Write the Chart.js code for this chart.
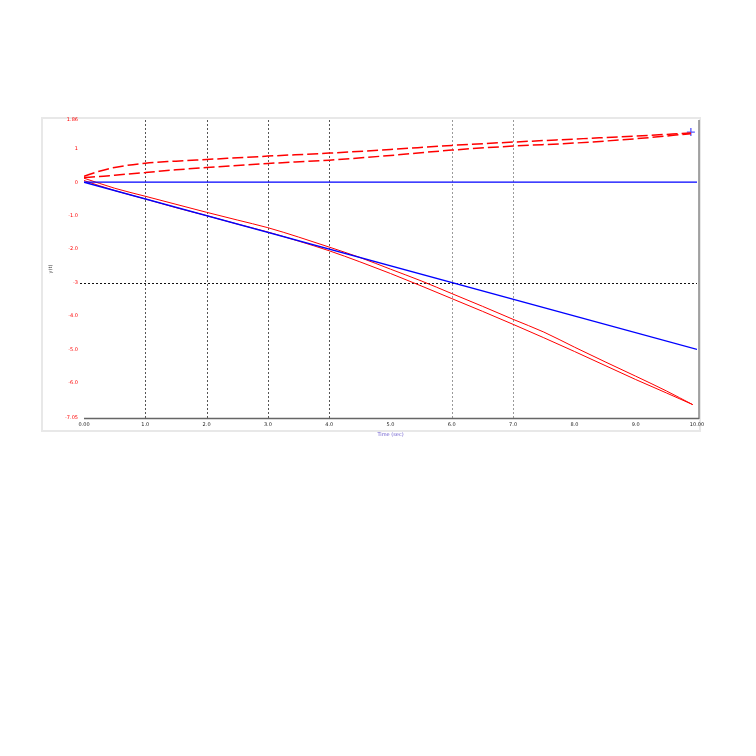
<!DOCTYPE html>
<html>
<head>
<meta charset="utf-8">
<script src="https://cdn.jsdelivr.net/npm/chart.js@4/dist/chart.umd.min.js"></script>
<style>
html,body{margin:0;padding:0;background:#fff;}
canvas{display:block;}
</style>
</head>
<body>
<canvas id="c" width="756" height="756"></canvas>
<script>
// ---- data ----
const xTickValues = [0,1,2,3,4,5,6,7,8,9,10];
const xTickLabels = ["0.00","1.0","2.0","3.0","4.0","5.0","6.0","7.0","8.0","9.0","10.00"];
const yTickValues = [1.86,1,0,-1,-2,-3,-4,-5,-6,-7.05];
const yTickLabels = ["1.86","1","0","-1.0","-2.0","-3","-4.0","-5.0","-6.0","-7.05"];
const xGridValues = [1,2,3,4,6,7];
const yGridValues = [-3];

const zeroT = [0,10];
const zeroY = [0,0];
const blueT = [0,10];
const blueY = [0,-5];

const redAT = [0,0.5,1,1.5,2,2.5,3,3.5,4,4.5,5,5.5,6,6.5,7,7.5,8,8.5,9,9.5,9.93];
const redAY = [0.12,-0.18,-0.42,-0.66,-0.9,-1.13,-1.36,-1.64,-1.94,-2.25,-2.6,-2.95,-3.33,-3.71,-4.1,-4.48,-4.93,-5.37,-5.8,-6.24,-6.65];
const redBT = [0,0.5,1,1.5,2,2.5,3,3.5,4,4.5,5,5.5,6,6.5,7,7.5,8,8.5,9,9.5,9.93];
const redBY = [0.05,-0.25,-0.5,-0.76,-1.0,-1.25,-1.49,-1.76,-2.05,-2.38,-2.73,-3.1,-3.48,-3.86,-4.25,-4.65,-5.06,-5.48,-5.9,-6.3,-6.65];

const redCT = [0,0.25,0.5,1,1.5,2,3,4,5,6,7,8,9,9.9];
const redCY = [0.18,0.33,0.44,0.57,0.63,0.68,0.78,0.87,0.98,1.1,1.2,1.29,1.38,1.47];
const redDT = [0,0.25,0.5,1,1.5,2,3,4,5,6,7,8,9,9.9];
const redDY = [0.14,0.17,0.21,0.29,0.37,0.44,0.56,0.66,0.8,0.96,1.08,1.17,1.3,1.45];

const markerT = [9.9];
const markerY = [1.5];

function pts(t, y){ return t.map((v,i)=>({x:v,y:y[i]})); }

const framePlugin = {
  id:'frame',
  beforeDraw(chart){
    const ctx = chart.ctx;
    ctx.save();
    ctx.fillStyle='#fff';
    ctx.fillRect(0,0,chart.width,chart.height);
    ctx.strokeStyle='#e8e8e8';
    ctx.lineWidth=2;
    ctx.strokeRect(42,118,658,313);
    ctx.restore();
  },
  beforeDatasetsDraw(chart){
    const ctx = chart.ctx, a = chart.chartArea;
    const xs = chart.scales.x, ys = chart.scales.y;
    ctx.save();
    ctx.lineWidth=1;
    ctx.setLineDash([2,2]);
    xGridValues.forEach((v,i)=>{
      const px = Math.round(xs.getPixelForValue(v))+0.5;
      ctx.strokeStyle = v>5 ? '#9a9a9a' : '#555';
      ctx.beginPath(); ctx.moveTo(px,a.top); ctx.lineTo(px,a.bottom); ctx.stroke();
    });
    ctx.strokeStyle='#111';
    yGridValues.forEach(v=>{
      const py = Math.round(ys.getPixelForValue(v))+0.5;
      ctx.beginPath(); ctx.moveTo(a.left-4,py); ctx.lineTo(a.right,py); ctx.stroke();
    });
    ctx.setLineDash([]);
    ctx.strokeStyle='#888';
    ctx.lineWidth=1.5;
    ctx.beginPath(); ctx.moveTo(a.right+2,a.top); ctx.lineTo(a.right+2,a.bottom+1); ctx.stroke();
    ctx.strokeStyle='#666';
    ctx.beginPath(); ctx.moveTo(a.left,a.bottom+0.5); ctx.lineTo(a.right+2,a.bottom+0.5); ctx.stroke();
    ctx.restore();
  }
};

new Chart(document.getElementById('c'), {
  type:'scatter',
  data:{
    datasets:[
      {data:pts(zeroT,zeroY), showLine:true, borderColor:'#0000ff', borderWidth:1.2, pointRadius:0},
      {data:pts(blueT,blueY), showLine:true, borderColor:'#0000ff', borderWidth:1.4, pointRadius:0},
      {data:pts(redAT,redAY), showLine:true, borderColor:'#ff0000', borderWidth:1, pointRadius:0, cubicInterpolationMode:'monotone'},
      {data:pts(redBT,redBY), showLine:true, borderColor:'#ff0000', borderWidth:1, pointRadius:0, cubicInterpolationMode:'monotone'},
      {data:pts(redCT,redCY), showLine:true, borderColor:'#ff0000', borderWidth:1.5, borderDash:[11,4], pointRadius:0, cubicInterpolationMode:'monotone'},
      {data:pts(redDT,redDY), showLine:true, borderColor:'#ff0000', borderWidth:1.5, borderDash:[11,4], pointRadius:0, cubicInterpolationMode:'monotone'},
      {data:pts(markerT,markerY), showLine:false, borderColor:'#5555ff', borderWidth:1.3, pointStyle:'cross', pointRadius:4, clip:false}
    ]
  },
  options:{
    responsive:false,
    animation:false,
    devicePixelRatio:1,
    layout:{padding:{left:42,top:120,right:59,bottom:318}},
    plugins:{legend:{display:false},tooltip:{enabled:false}},
    scales:{
      x:{
        type:'linear', min:0, max:10,
        afterFit(s){ s.height=20; },
        afterBuildTicks(s){ s.ticks = xTickValues.map(v=>({value:v})); },
        grid:{display:false, drawTicks:false},
        border:{display:false},
        ticks:{
          autoSkip:false, maxRotation:0, padding:4,
          color:'#222', font:{family:'DejaVu Sans', size:5},
          callback:(v)=>{ const i = xTickValues.indexOf(v); return i>=0 ? xTickLabels[i] : ''; }
        },
        title:{display:true, text:'Time (sec)', color:'#6a5acd', font:{family:'DejaVu Sans', size:5}, padding:{top:0,bottom:0}}
      },
      y:{
        type:'linear', min:-7.05, max:1.86,
        afterFit(s){ s.width=42; },
        afterBuildTicks(s){ s.ticks = yTickValues.map(v=>({value:v})); },
        grid:{display:false, drawTicks:false},
        border:{display:false},
        ticks:{
          autoSkip:false, padding:6,
          color:'#ff0000', font:{family:'DejaVu Sans', size:5},
          callback:(v)=>{ const i = yTickValues.indexOf(v); return i>=0 ? yTickLabels[i] : ''; }
        },
        title:{display:true, text:'y(t)', color:'#333', font:{family:'DejaVu Sans', size:5}, padding:{top:6,bottom:8}}
      }
    }
  },
  plugins:[framePlugin]
});
</script>
</body>
</html>
